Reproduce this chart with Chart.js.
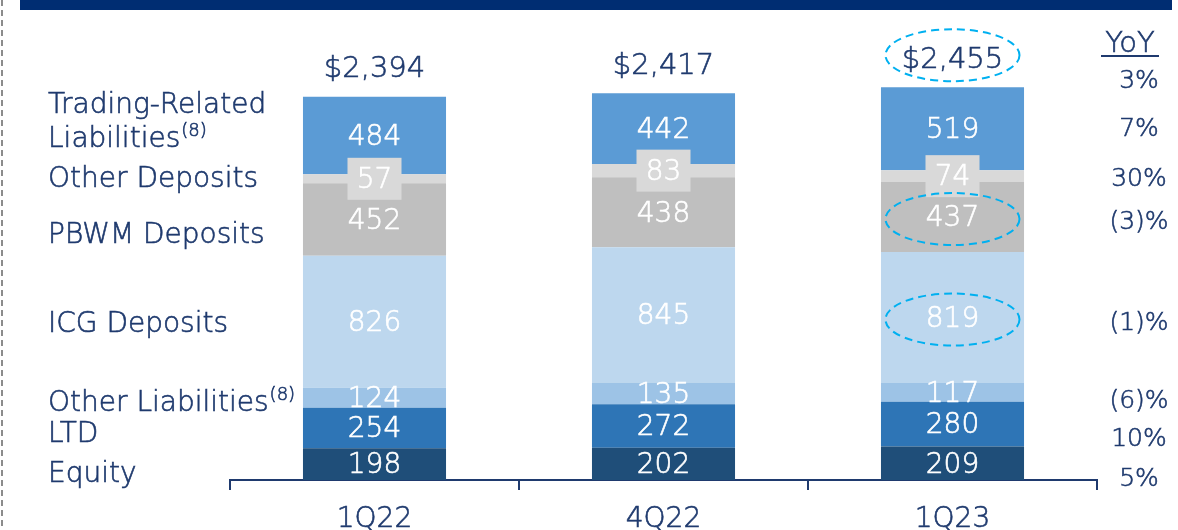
<!DOCTYPE html>
<html>
<head>
<meta charset="utf-8">
<script src="https://cdn.jsdelivr.net/npm/chart.js@4.4.0/dist/chart.umd.min.js"></script>
<style>
  body { margin: 0; background: #fff; }
  #wrap { position: relative; width: 1178px; height: 530px; }
</style>
</head>
<body>
<div id="wrap"><canvas id="liabChart" width="1178" height="530"></canvas></div>
<script>
// data, stacked bottom -> top
const quarters = ['1Q22', '4Q22', '1Q23'];
const seriesNames = ['Equity', 'LTD', 'Other Liabilities', 'ICG Deposits', 'PBWM Deposits', 'Other Deposits', 'Trading-Related Liabilities'];
const equity = [198, 202, 209];
const ltd = [254, 272, 280];
const otherLiabilities = [124, 135, 117];
const icgDeposits = [826, 845, 819];
const pbwmDeposits = [452, 438, 437];
const otherDeposits = [57, 83, 74];
const tradingLiabilities = [484, 442, 519];
const totals = [2394, 2417, 2455];
const yoyLabels = ['5%', '10%', '(6)%', '(1)%', '(3)%', '30%', '7%'];
const yoyTotal = '3%';

const NAVY = '#1f3a6e';
const FONT = '"DejaVu Sans", Lato, sans-serif';
const colors = ['#1f4e79', '#2e75b6', '#9dc3e6', '#bdd7ee', '#bfbfbf', '#d9d9d9', '#5b9bd5'];
const seriesValues = [equity, ltd, otherLiabilities, icgDeposits, pbwmDeposits, otherDeposits, tradingLiabilities];

// left label nudges (from first bar's segment centre) and right YoY nudges (from last bar)
const leftNudge = [11, 7, 6, 3, 16, 1, 4];
const rightNudge = [16, 15, 9, 6, 5, 3, 1];

function font(size) { return '200 ' + size + 'px ' + FONT; }

// light text with a hair of stroke to thicken it a little
function txt(ctx, s, x, y, color) {
  ctx.fillStyle = color;
  ctx.strokeStyle = color;
  ctx.lineWidth = 0.6;
  ctx.setLineDash([]);
  ctx.fillText(s, x, y);
  ctx.strokeText(s, x, y);
}

const decorPlugin = {
  id: 'decor',
  beforeDraw(chart) {
    const ctx = chart.ctx;
    ctx.save();
    // top banner
    ctx.fillStyle = '#002d72';
    ctx.fillRect(20, 0, 1152, 10);
    // dashed page edge
    ctx.strokeStyle = '#8c8c8c';
    ctx.lineWidth = 2;
    ctx.setLineDash([6, 4]);
    ctx.beginPath();
    ctx.moveTo(2, 0);
    ctx.lineTo(2, 530);
    ctx.stroke();
    ctx.restore();
  },
  afterDatasetsDraw(chart) {
    const ctx = chart.ctx;
    ctx.save();
    ctx.textAlign = 'center';
    ctx.textBaseline = 'middle';

    // value labels
    chart.data.datasets.forEach((ds, di) => {
      const meta = chart.getDatasetMeta(di);
      meta.data.forEach((bar, i) => {
        const cy = (bar.y + bar.base) / 2;
        if (di === 5) {
          ctx.fillStyle = '#d9d9d9';
          ctx.fillRect(bar.x - 27, cy - 21, 54, 42);
        }
        ctx.font = font(28);
        txt(ctx, String(ds.data[i]), bar.x, cy + 2, '#ffffff');
      });
    });

    // totals above bars
    const topMeta = chart.getDatasetMeta(chart.data.datasets.length - 1);
    topMeta.data.forEach((bar, i) => {
      ctx.font = font(29);
      txt(ctx, '$' + totals[i].toLocaleString('en-US'), bar.x, bar.y - 27, NAVY);
    });

    // left series labels, aligned to first bar
    ctx.textAlign = 'left';
    seriesNames.forEach((name, di) => {
      const bar = chart.getDatasetMeta(di).data[0];
      const cy = (bar.y + bar.base) / 2 + leftNudge[di];
      ctx.font = font(28);
      if (di === 6) {
        txt(ctx, 'Trading-Related', 48, cy - 34, NAVY);
        const w = ctx.measureText('Liabilities').width;
        txt(ctx, 'Liabilities', 48, cy, NAVY);
        ctx.font = font(18);
        txt(ctx, '(8)', 48 + w + 1, cy - 8, NAVY);
      } else if (di === 2) {
        const w = ctx.measureText(name).width;
        txt(ctx, name, 48, cy, NAVY);
        ctx.font = font(18);
        txt(ctx, '(8)', 48 + w + 1, cy - 8, NAVY);
      } else {
        txt(ctx, name, 48, cy, NAVY);
      }
    });

    // YoY column, aligned to last bar
    ctx.textAlign = 'center';
    const yx = 1139;
    ctx.font = font(29);
    txt(ctx, 'YoY', 1130, 44, NAVY);
    ctx.fillRect(1101, 55, 58, 2);
    ctx.font = font(25);
    const last = topMeta.data[2];
    txt(ctx, yoyTotal, yx, last.y - 6, NAVY);
    yoyLabels.forEach((lbl, di) => {
      const bar = chart.getDatasetMeta(di).data[2];
      txt(ctx, lbl, yx, (bar.y + bar.base) / 2 + rightNudge[di], NAVY);
    });

    // dashed highlight ellipses on 1Q23
    ctx.strokeStyle = '#00b0f0';
    ctx.lineWidth = 2;
    ctx.setLineDash([8, 5]);
    const ell = (x, y) => {
      ctx.beginPath();
      ctx.ellipse(x, y, 67, 26, 0, 0, Math.PI * 2);
      ctx.stroke();
    };
    ell(last.x, last.y - 32);
    [4, 3].forEach(di => {
      const bar = chart.getDatasetMeta(di).data[2];
      ell(bar.x, (bar.y + bar.base) / 2 + 2);
    });
    ctx.restore();
  }
};

const ctx = document.getElementById('liabChart').getContext('2d');
new Chart(ctx, {
  type: 'bar',
  data: {
    labels: quarters,
    datasets: seriesNames.map((name, i) => ({
      label: name,
      data: seriesValues[i],
      backgroundColor: colors[i],
      borderWidth: 0,
      barPercentage: 0.495,
      categoryPercentage: 1,
    })),
  },
  options: {
    responsive: false,
    animation: false,
    layout: { padding: { left: 230, right: 81, top: 40, bottom: 0 } },
    plugins: { legend: { display: false }, tooltip: { enabled: false } },
    scales: {
      x: {
        stacked: true,
        grid: { drawOnChartArea: false, tickLength: 10, color: NAVY, lineWidth: 2, offset: true },
        border: { color: NAVY, width: 2 },
        ticks: {
          color: NAVY, font: { family: FONT, size: 28, weight: '200' }, padding: 13,
          textStrokeColor: NAVY, textStrokeWidth: 0.6,
        },
        afterFit(scale) { scale.height = 50; },
      },
      y: { stacked: true, display: false, min: 0, max: 2750 },
    },
  },
  plugins: [decorPlugin],
});
</script>
</body>
</html>
